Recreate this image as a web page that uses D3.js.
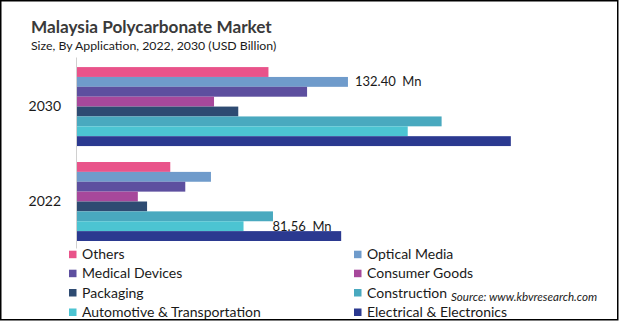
<!DOCTYPE html>
<html>
<head>
<meta charset="utf-8">
<script src="https://cdn.jsdelivr.net/npm/d3@7"></script>
<style>
  html, body { margin: 0; padding: 0; background: #fff; }
  svg { display: block; }
  text { font-family: Lato, "Open Sans", sans-serif; fill: #1a1a1a; }
</style>
</head>
<body>
<svg id="chart" width="619" height="322"></svg>
<script>
// Market size by application (USD Mn)
const years = ["2030", "2022"];
const applications = [
  "Others", "Optical Media", "Medical Devices", "Consumer Goods",
  "Packaging", "Construction", "Automotive & Transportation", "Electrical & Electronics"
];
const values2030 = [93.7, 132.40, 112.5, 67.2, 79.0, 178.0, 161.5, 211.7];
const values2022 = [45.9, 65.7, 53.2, 30.1, 34.6, 95.9, 81.56, 129.1];
const colors = ["#E9538A", "#6F9BCB", "#5D4F9F", "#A7489B", "#2E4B72", "#49A9BF", "#4CC4D2", "#2B3990"];
// Values printed beside their bars: [year, application]
const labelled = [["2030", "Optical Media"], ["2022", "Automotive & Transportation"]];

const byYear = { "2030": values2030, "2022": values2022 };
const rows = [];
years.forEach(yr => applications.forEach((a, i) => rows.push({ year: yr, app: a, value: byYear[yr][i], color: colors[i] })));

const svg = d3.select("#chart");

// Frame
svg.append("rect").attr("x", 0.75).attr("y", 0.75).attr("width", 617).attr("height", 319)
  .attr("fill", "none").attr("stroke", "#000").attr("stroke-width", 1.5);

// Titles
svg.append("text").attr("x", 31).attr("y", 32.5).attr("font-size", 17.2).attr("font-weight", 700)
  .style("fill", "#3a3a3a").text("Malaysia Polycarbonate Market");
svg.append("text").attr("x", 31).attr("y", 50).attr("font-size", 12.3)
  .text("Size, By Application, 2022, 2030 (USD Billion)");

// Scales
const x = d3.scaleLinear().domain([0, 240]).range([76, 76 + 240 * 2.054]);
const y = d3.scaleBand().domain(years).range([57, 248])
  .paddingInner(0.168).paddingOuter(0.09).align(0.59);
const yInner = d3.scaleBand().domain(applications).range([0, y.bandwidth()]).padding(0);

// Bars
svg.append("g").selectAll("rect").data(rows).join("rect")
  .attr("x", x(0))
  .attr("y", d => y(d.year) + yInner(d.app))
  .attr("width", d => x(d.value) - x(0))
  .attr("height", yInner.bandwidth())
  .attr("fill", d => d.color);

// Category axis
const yAxis = svg.append("g").attr("transform", `translate(${x(0)},0)`)
  .call(d3.axisLeft(y).tickSize(0).tickPadding(15));
yAxis.select(".domain").attr("stroke", "#d0d0d0").attr("stroke-width", 1);
yAxis.selectAll("text").attr("font-size", 14).style("font-family", "Lato, sans-serif").attr("fill", "#1a1a1a");

// Value labels
const fmt = d3.format(".2f");
labelled.forEach(([yr, app]) => {
  const d = rows.find(r => r.year === yr && r.app === app);
  const dx = yr === "2022" ? 29 : 7;
  svg.append("text")
    .attr("x", x(d.value) + dx)
    .attr("y", y(yr) + yInner(app) + yInner.bandwidth() / 2)
    .attr("dy", "0.35em")
    .attr("font-size", 13)
    .style("white-space", "pre")
    .text(`${fmt(d.value)}  Mn`);
});

// Legend
const legendCols = [69, 354];
const legendRows = [254.5, 273.5, 292.8, 312.3];
const legend = svg.append("g").selectAll("g").data(applications).join("g")
  .attr("transform", (d, i) => `translate(${legendCols[i % 2]},${legendRows[Math.floor(i / 2)]})`);
legend.append("rect").attr("x", 0).attr("y", -3.8).attr("width", 7.5).attr("height", 7.5)
  .attr("fill", (d, i) => colors[i]);
legend.append("text").attr("x", 13).attr("dy", "0.35em").attr("font-size", 14).text(d => d);

// Source
svg.append("text").attr("x", 451).attr("y", 301).attr("font-size", 11.6).attr("font-style", "italic")
  .text("Source: www.kbvresearch.com");
</script>
</body>
</html>
